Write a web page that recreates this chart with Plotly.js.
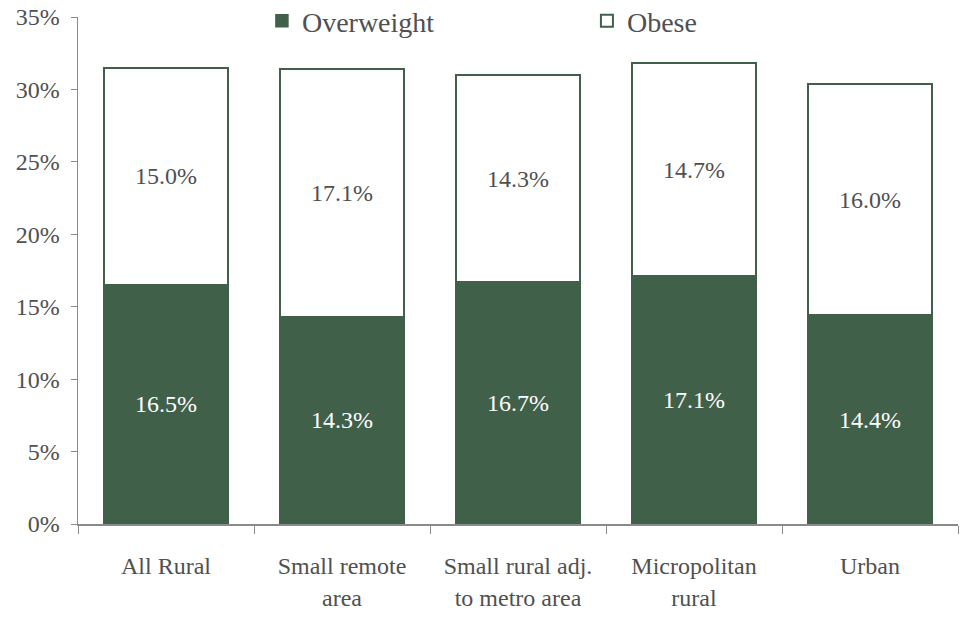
<!DOCTYPE html>
<html>
<head>
<meta charset="utf-8">
<script src="https://cdn.plot.ly/plotly-3.0.1.min.js"></script>
<style>html,body{margin:0;padding:0;background:#fff;}#chart{width:964px;height:622px;}</style>
</head>
<body>
<div id="chart"></div>
<script>
var categories = ["All Rural", "Small remote<br>area", "Small rural adj.<br>to metro area", "Micropolitan<br>rural", "Urban"];
var overweight = [16.5, 14.3, 16.7, 17.1, 14.4];
var obese = [15.0, 17.1, 14.3, 14.7, 16.0];
var yTicks = [0, 5, 10, 15, 20, 25, 30, 35];

var green = "#41604a";
var textGray = "#505050";
var fontFam = "Liberation Serif";

var traces = [
  {
    type: "bar", name: "Overweight", x: categories, y: overweight,
    marker: {color: green, line: {color: green, width: 1.5}},
    text: overweight.map(function(v){return v.toFixed(1) + "%";}),
    textposition: "inside", insidetextanchor: "middle",
    textfont: {family: fontFam, size: 24, color: "#ffffff"},
    hoverinfo: "none"
  },
  {
    type: "bar", name: "Obese", x: categories, y: obese,
    marker: {color: "#ffffff", line: {color: green, width: 2}},
    text: obese.map(function(v){return v.toFixed(1) + "%";}),
    textposition: "inside", insidetextanchor: "middle",
    textfont: {family: fontFam, size: 24, color: textGray},
    hoverinfo: "none"
  }
];

var layout = {
  width: 964, height: 622,
  margin: {l: 78, r: 6, t: 17, b: 98, autoexpand: false},
  barmode: "stack",
  bargap: 0.29,
  paper_bgcolor: "#ffffff",
  plot_bgcolor: "#ffffff",
  font: {family: fontFam, color: textGray, size: 24},
  showlegend: true,
  legend: {
    orientation: "h", traceorder: "normal",
    x: 0.209, xanchor: "left", y: 0.992, yanchor: "middle",
    font: {family: fontFam, size: 28, color: textGray},
    entrywidth: 280, entrywidthmode: "pixels",
    bgcolor: "rgba(0,0,0,0)"
  },
  xaxis: {
    showline: true, linecolor: "#8a8a8a", linewidth: 1.5,
    ticks: "outside", tickson: "boundaries", ticklen: 8, tickcolor: "#8a8a8a",
    ticklabelstandoff: 20,
    tickfont: {family: fontFam, size: 24, color: textGray},
    showgrid: false, zeroline: false, fixedrange: true
  },
  yaxis: {
    range: [0, 35], tickvals: yTicks, ticktext: yTicks.map(function(v){return v + "%";}),
    showline: true, linecolor: "#8a8a8a", linewidth: 1.5,
    ticks: "outside", ticklen: 6, tickcolor: "#8a8a8a",
    ticklabelstandoff: 6,
    tickfont: {family: fontFam, size: 24, color: textGray},
    showgrid: false, zeroline: false, fixedrange: true
  }
};

Plotly.newPlot("chart", traces, layout, {displayModeBar: false, staticPlot: true});
</script>
</body>
</html>
